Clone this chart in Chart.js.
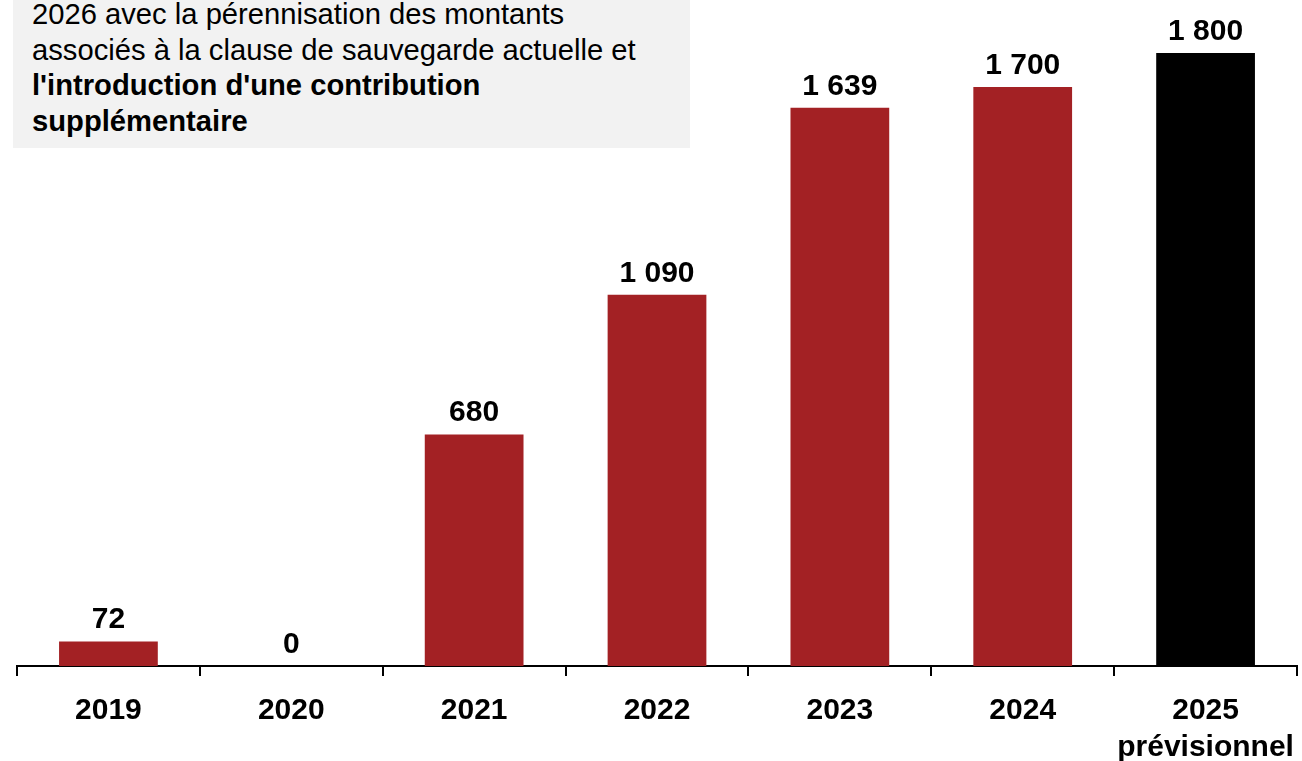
<!DOCTYPE html>
<html>
<head>
<meta charset="utf-8">
<script src="https://cdn.jsdelivr.net/npm/chart.js@4"></script>
<style>
  html, body { margin: 0; padding: 0; background: #fff; }
  #wrap { position: relative; width: 1302px; height: 761px; overflow: hidden; }
  #chart { position: absolute; left: 0; top: 0; }
  #note {
    position: absolute; left: 13px; top: 0; width: 657px; height: 148px;
    background: #f2f2f2; padding: 0 0 0 20px; box-sizing: content-box;
    font-family: "Liberation Sans", Arial, sans-serif; font-size: 29.2px;
    line-height: 35.5px; color: #000; z-index: 2; white-space: nowrap;
  }
  #note .inner { position: relative; top: -3px; left: -1px; }
</style>
</head>
<body>
<div id="wrap">
  <canvas id="chart" width="1302" height="761"></canvas>
  <div id="note"><div class="inner">2026 avec la pérennisation des montants<br>associés à la clause de sauvegarde actuelle et<br><b>l'introduction d'une contribution<br>supplémentaire</b></div></div>
</div>
<script>
const categories = [['2019'], ['2020'], ['2021'], ['2022'], ['2023'], ['2024'], ['2025', 'prévisionnel']];
const values = [72, 0, 680, 1090, 1639, 1700, 1800];
const barColors = ['#a32124', '#a32124', '#a32124', '#a32124', '#a32124', '#a32124', '#000000'];

const FONT = '"Liberation Sans", Arial, sans-serif';

function fmt(v) {
  return String(v).replace(/\B(?=(\d{3})+(?!\d))/g, ' ');
}

const valueLabels = {
  id: 'valueLabels',
  afterDatasetsDraw(chart) {
    const ctx = chart.ctx;
    const meta = chart.getDatasetMeta(0);
    ctx.save();
    ctx.font = 'bold 30px ' + FONT;
    ctx.fillStyle = '#000';
    ctx.textAlign = 'center';
    ctx.textBaseline = 'alphabetic';
    meta.data.forEach((bar, i) => {
      ctx.fillText(fmt(values[i]), bar.x, bar.y - 13);
    });
    ctx.restore();
  }
};

new Chart(document.getElementById('chart'), {
  type: 'bar',
  data: {
    labels: categories,
    datasets: [{
      data: values,
      backgroundColor: barColors,
      borderWidth: 0,
      categoryPercentage: 1,
      barPercentage: 0.54
    }]
  },
  options: {
    responsive: false,
    animation: false,
    events: [],
    layout: { padding: { left: 17, right: 5, top: 53, bottom: 0 } },
    plugins: { legend: { display: false }, tooltip: { enabled: false } },
    scales: {
      x: {
        offset: true,
        grid: { display: true, drawOnChartArea: false, drawTicks: true, tickLength: 10, color: '#000', lineWidth: 2, offset: true },
        border: { display: true, color: '#000', width: 2 },
        ticks: { color: '#000', font: { family: FONT, size: 30, weight: 'bold', lineHeight: 1.23 }, padding: 16, maxRotation: 0, autoSkip: false },
        afterFit(scale) {
          scale.height = 95;
          scale.paddingLeft = 0;
          scale.paddingRight = 0;
        }
      },
      y: {
        display: false,
        min: 0,
        max: 1800
      }
    }
  },
  plugins: [valueLabels]
});
</script>
</body>
</html>
